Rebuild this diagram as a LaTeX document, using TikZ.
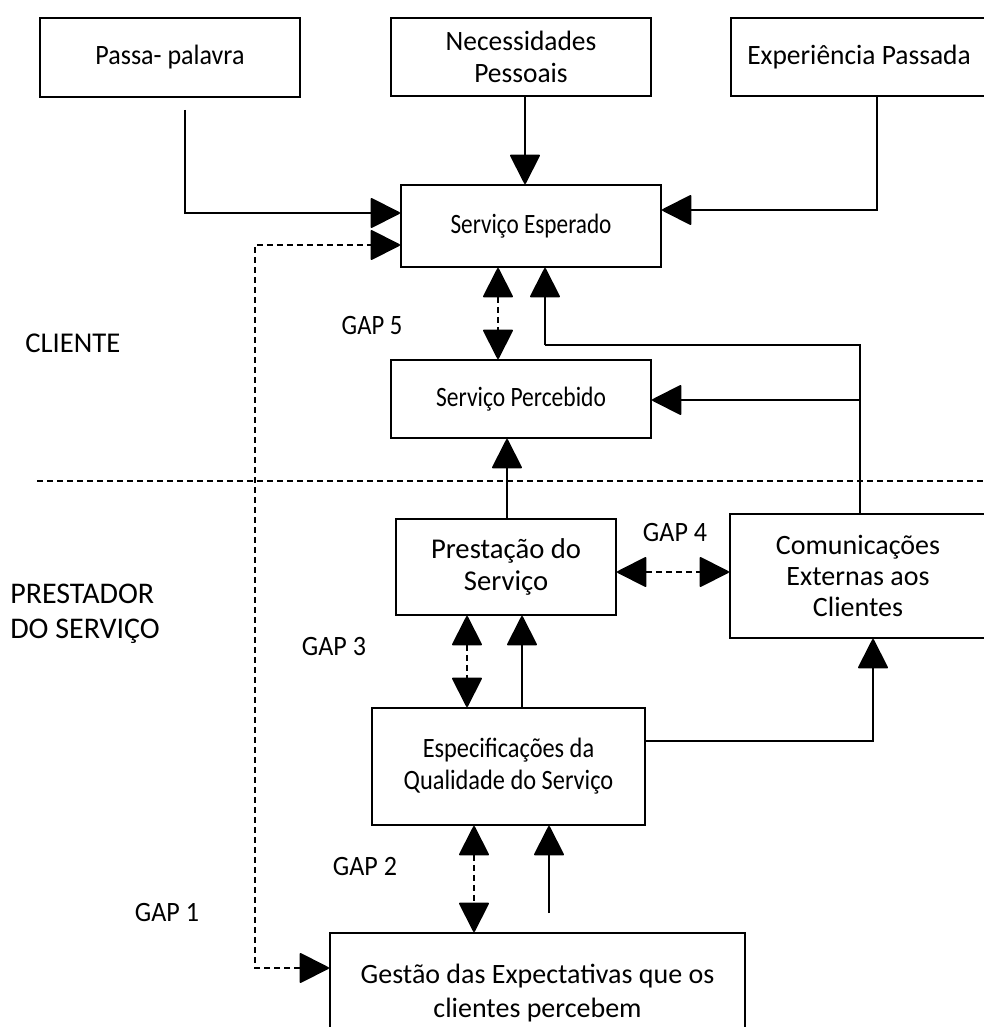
\documentclass[tikz,border=0pt]{standalone}
\usepackage{graphicx}
\usepackage{fontspec}
\setmainfont{Carlito}
\usetikzlibrary{arrows.meta,calc}
% horizontally narrowed text, height unchanged
\newcommand{\hsq}[2]{\scalebox{#1}[1]{#2}}
\begin{document}
\begin{tikzpicture}[x=0.75pt,y=-0.75pt,
  fs/.style 2 args={font=\fontsize{#1}{#2}\selectfont},
  box/.style={draw,line width=1.5pt,align=center,inner sep=0pt},
  lbl/.style={inner sep=0pt},
  arr/.style={line width=1.5pt,-{Triangle[length=23pt,width=23pt,round]}},
  darr/.style={line width=1.5pt,dash pattern=on 4.5pt off 3pt,
    {Triangle[length=23pt,width=23pt,round]}-{Triangle[length=23pt,width=23pt,round]}},
  link/.style={line width=1.5pt},
  sep/.style={line width=1.5pt,dash pattern=on 4.5pt off 3pt}]
\useasboundingbox (0,0) rectangle (984,1027);
\clip (0,0) rectangle (984,1027);

% client-side boxes
\node[box,fs={21}{24},minimum width=195pt,minimum height=59pt] (passa) at (170,57.5) {\hsq{0.93}{Passa- palavra}};
\node[box,fs={21}{24},minimum width=195pt,minimum height=58.5pt] (nec) at (521,57) {\hsq{0.98}{Necessidades}\\\hsq{0.98}{Pessoais}};
\node[box,fs={21}{24},minimum width=192pt,minimum height=58.5pt] (exper) at (859,57) {\hsq{0.98}{Experiência Passada}};
\node[box,fs={21}{24},minimum width=195pt,minimum height=61.5pt] (esper) at (531,226) {\hsq{0.83}{Serviço Esperado}};
\node[box,fs={21}{24},minimum width=195pt,minimum height=58.5pt] (perceb) at (521,399) {\hsq{0.84}{Serviço Percebido}};

% provider-side boxes
\node[box,fs={21.5}{23.5},minimum width=165pt,minimum height=72pt] (prest) at (506,567) {Prestação do\\Serviço};
\node[box,fs={21}{23.3},minimum width=192pt,minimum height=93pt] (comun) at (858,576) {Comunicações\\Externas aos\\Clientes};
\node[box,fs={21}{24},minimum width=204.75pt,minimum height=87.75pt] (espec) at (508.5,766.5) {\hsq{0.87}{Especificações da}\\\hsq{0.87}{Qualidade do Serviço}};
\node[box,fs={21}{26},minimum width=311.25pt,minimum height=90pt] (gest) at (537.5,993) {Gestão das Expectativas que os\\clientes percebem};

% side labels
\node[lbl,fs={21.5}{26},anchor=west] (cli) at (25,343) {CLIENTE};
\node[lbl,fs={22.5}{26},anchor=west,align=left] (prov) at (10,614) {PRESTADOR\\DO SERVIÇO};
\node[lbl,fs={21}{24}] (g5) at (372,326) {\hsq{0.88}{GAP 5}};
\node[lbl,fs={21}{24}] (g4) at (675,533) {\hsq{0.93}{GAP 4}};
\node[lbl,fs={21}{24}] (g3) at (334,647) {\hsq{0.93}{GAP 3}};
\node[lbl,fs={21}{24}] (g2) at (365,866) {\hsq{0.93}{GAP 2}};
\node[lbl,fs={21}{24}] (g1) at (167,912) {\hsq{0.93}{GAP 1}};

% divider between client and provider
\coordinate (dl) at (37,481);
\coordinate (dr) at (984,481);
\draw[sep] (dl) -- (dr);

% helper coordinates
\coordinate (pp) at (185,110);
\coordinate (y213) at (0,213);
\coordinate (xnec) at (525,0);
\coordinate (ex) at (877,96);
\coordinate (y210) at (0,210);
\coordinate (g1a) at (255,245);
\coordinate (g1b) at (255,968);
\coordinate (x498) at (498,0);
\coordinate (fb) at (545,345);
\coordinate (fr) at (860,345);
\coordinate (y400) at (0,400);
\coordinate (x507) at (507,0);
\coordinate (y572) at (0,572);
\coordinate (x467) at (467,0);
\coordinate (x522) at (522,0);
\coordinate (er) at (873,741);
\coordinate (x474) at (474,0);
\coordinate (gs) at (549,913);

% inputs to the expected service
\draw[arr] (pp) |- (esper.west |- y213);
\draw[arr] (xnec |- nec.south) -- (xnec |- esper.north);
\draw[arr] (exper.south -| ex) |- (esper.east |- y210);

% GAP 1
\draw[darr] (gest.west |- g1b) -- (g1b) -- (g1a) -- (esper.west |- g1a);

% GAP 5 and external communications feedback
\draw[darr] (x498 |- esper.south) -- (x498 |- perceb.north);
\draw[arr] (fb) -- (fb |- esper.south);
\draw[link] (fb) -- (fr) -- (fr |- comun.north);
\draw[arr] (fr |- y400) -- (perceb.east |- y400);

% service delivery
\draw[arr] (x507 |- prest.north) -- (x507 |- perceb.south);
\draw[darr] (prest.east |- y572) -- (comun.west |- y572);

% GAP 3
\draw[darr] (x467 |- prest.south) -- (x467 |- espec.north);
\draw[arr] (x522 |- espec.north) -- (x522 |- prest.south);

% specifications to external communications
\draw[arr] (espec.east |- er) -- (er) -- (er |- comun.south);

% GAP 2
\draw[darr] (x474 |- espec.south) -- (x474 |- gest.north);
\draw[arr] (gs) -- (gs |- espec.south);
\end{tikzpicture}
\end{document}
